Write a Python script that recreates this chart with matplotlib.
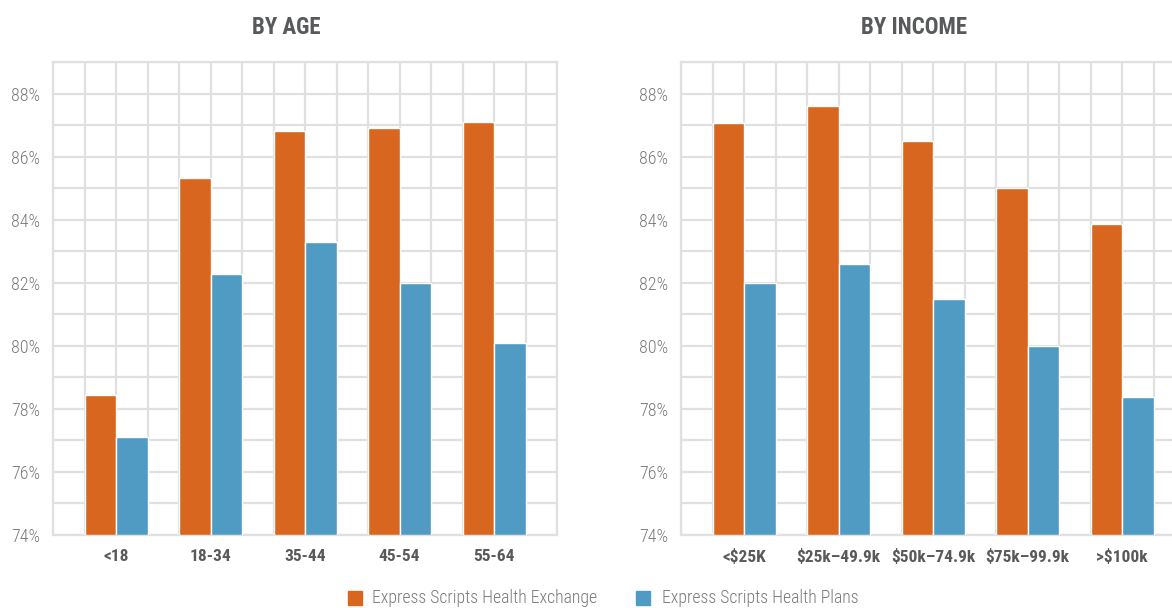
import matplotlib
matplotlib.use("Agg")
import matplotlib.pyplot as plt
from matplotlib.patches import Rectangle
from matplotlib.ticker import MultipleLocator, FuncFormatter
from matplotlib import font_manager

# Data
age_groups = ["<18", "18-34", "35-44", "45-54", "55-64"]
age_exchange = [78.43, 85.33, 86.82, 86.92, 87.11]
age_plans = [77.12, 82.27, 83.29, 82.0, 80.08]

income_groups = ["<$25K", "$25k\u201349.9k", "$50k\u201374.9k", "$75k\u201399.9k", ">$100k"]
income_exchange = [87.08, 87.59, 86.5, 85.0, 83.86]
income_plans = [82.0, 82.59, 81.48, 80.0, 78.39]

series_names = ["Express Scripts Health Exchange", "Express Scripts Health Plans"]
panel_titles = ["BY AGE", "BY INCOME"]

ORANGE = "#D9661F"
BLUE = "#4F9BC4"
GRID = "#E0E0E0"
TICK_GRAY = "#7A7A7A"
DARK = "#58595B"

installed = {f.name for f in font_manager.fontManager.ttflist}
narrow = [f for f in ["Roboto Condensed", "Liberation Sans Narrow"] if f in installed]
FAMILY = narrow + ["DejaVu Sans"]
plt.rcParams["font.family"] = FAMILY

fig = plt.figure(figsize=(11.72, 6.08), dpi=100)

def panel(rect, cats, a, b, title, title_x):
    ax = fig.add_axes(rect)
    n = len(cats)
    ncell = 3 * n + 1
    xs_a = [3 * i + 1.5 for i in range(n)]
    xs_b = [3 * i + 2.5 for i in range(n)]
    base = 74
    ax.bar(xs_a, [v - base for v in a], bottom=base, width=1.0, color=ORANGE,
           edgecolor="white", linewidth=1.0, zorder=3)
    ax.bar(xs_b, [v - base for v in b], bottom=base, width=1.0, color=BLUE,
           edgecolor="white", linewidth=1.0, zorder=3)
    ax.set_xlim(0, ncell)
    ax.set_ylim(74, 89)
    ax.yaxis.set_major_locator(MultipleLocator(2))
    ax.yaxis.set_minor_locator(MultipleLocator(1))
    ax.yaxis.set_major_formatter(FuncFormatter(lambda v, p: f"{int(round(v))}%"))
    ax.xaxis.set_minor_locator(MultipleLocator(1))
    ax.set_xticks([3 * i + 2 for i in range(n)])
    ax.set_xticklabels(cats, fontweight="bold", color=DARK, fontsize=12.5)
    for lbl in ax.get_yticklabels():
        lbl.set_fontweight("light")
    ax.grid(True, which="both", color=GRID, linewidth=1.6, zorder=0)
    ax.set_axisbelow(True)
    for s in ax.spines.values():
        s.set_color(GRID)
        s.set_linewidth(1.6)
    ax.tick_params(axis="both", which="both", length=0)
    ax.tick_params(axis="y", labelsize=13, labelcolor=TICK_GRAY, pad=9)
    ax.tick_params(axis="x", pad=10)
    fig.text(title_x, 1 - 28 / 608, title, ha="center", va="center",
             fontsize=16.5, fontweight="bold", color=DARK)
    return ax

panel([53 / 1172, 1 - 535 / 608, 504 / 1172, 473 / 608],
      age_groups, age_exchange, age_plans, panel_titles[0], 286 / 1172)
panel([681 / 1172, 1 - 535 / 608, 504 / 1172, 473 / 608],
      income_groups, income_exchange, income_plans, panel_titles[1], 914 / 1172)

# Legend
legend_y = 1 - 598 / 608
for (x_sq, x_txt, color, name) in [(348, 372, ORANGE, series_names[0]),
                                   (636, 662, BLUE, series_names[1])]:
    fig.patches.append(Rectangle((x_sq / 1172, 1 - 605 / 608), 14 / 1172, 14 / 608,
                                 transform=fig.transFigure, color=color))
    fig.text(x_txt / 1172, legend_y, name, ha="left", va="center",
             fontsize=12.8, fontweight="light", color=TICK_GRAY)

fig.savefig("out.png", dpi=100)
